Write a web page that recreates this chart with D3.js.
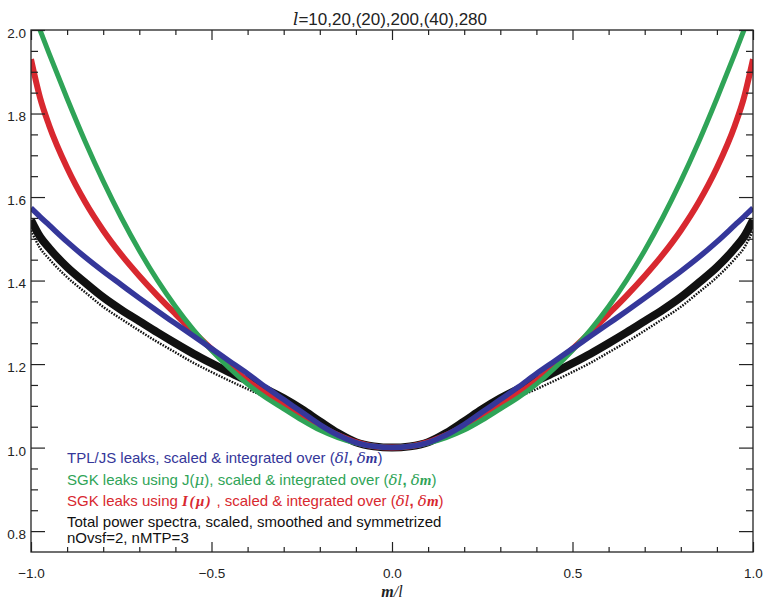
<!DOCTYPE html>
<html>
<head>
<meta charset="utf-8">
<script src="https://cdn.jsdelivr.net/npm/d3@7"></script>
<style>
  html, body { margin: 0; padding: 0; background: #fff; }
  svg { display: block; }
  text { font-family: "Liberation Sans", Arial, Helvetica, sans-serif; }
</style>
</head>
<body>
<svg id="chart" width="764" height="601"></svg>
<script>
// |m|/l sample positions (curves are symmetric in m/l)
const mPos = [0, 0.05, 0.1, 0.15, 0.2, 0.25, 0.3, 0.35, 0.4, 0.45, 0.5, 0.55, 0.6, 0.65, 0.7, 0.75, 0.8, 0.85, 0.9, 0.95, 0.975, 1.0];

// Total power spectra (scaled, smoothed, symmetrized): main band and lower track
const totalPower = [1.000, 1.003, 1.013, 1.035, 1.063, 1.092, 1.118, 1.140, 1.160, 1.180, 1.202, 1.225, 1.250, 1.276, 1.303, 1.330, 1.360, 1.395, 1.432, 1.478, 1.505, 1.545];
const totalPowerLow = [1.000, 1.002, 1.010, 1.027, 1.050, 1.077, 1.100, 1.121, 1.140, 1.160, 1.181, 1.203, 1.228, 1.253, 1.280, 1.308, 1.337, 1.372, 1.408, 1.452, 1.478, 1.520];

// TPL/JS leaks
const tplLeaks = [1.000, 1.003, 1.012, 1.030, 1.055, 1.085, 1.115, 1.145, 1.177, 1.207, 1.237, 1.267, 1.297, 1.327, 1.358, 1.390, 1.422, 1.456, 1.493, 1.533, 1.553, 1.574];

// SGK leaks using J(mu)
const sgkJ = [1.000, 1.003, 1.011, 1.024, 1.042, 1.066, 1.093, 1.120, 1.152, 1.190, 1.233, 1.282, 1.338, 1.401, 1.472, 1.551, 1.638, 1.733, 1.836, 1.944, 2.000, 2.056];

// SGK leaks using I(mu)
const sgkI = [1.000, 1.003, 1.013, 1.030, 1.052, 1.077, 1.103, 1.130, 1.160, 1.196, 1.236, 1.277, 1.320, 1.364, 1.411, 1.462, 1.520, 1.588, 1.670, 1.772, 1.838, 1.930];

// Axis ticks
const xMajor = [-1.0, -0.5, 0.0, 0.5, 1.0];
const xMinor = [-0.9, -0.8, -0.7, -0.6, -0.4, -0.3, -0.2, -0.1, 0.1, 0.2, 0.3, 0.4, 0.6, 0.7, 0.8, 0.9];
const yMajor = [0.8, 1.0, 1.2, 1.4, 1.6, 1.8, 2.0];
const yMinor = [0.85, 0.9, 0.95, 1.05, 1.1, 1.15, 1.25, 1.3, 1.35, 1.45, 1.5, 1.55, 1.65, 1.7, 1.75, 1.85, 1.9, 1.95];

const colors = { black: "#111111", blue: "#35379a", green: "#2fa457", red: "#d8282f" };

const svg = d3.select("#chart");
const plotL = 31, plotR = 753, plotT = 30, plotB = 552;

const x = d3.scaleLinear().domain([-1, 1]).range([plotL, plotR]);
const y = d3.scaleLinear().domain([0.75, 2.0]).range([plotB, plotT]);

// Mirror the half-curve onto negative m/l
function full(vals) {
  const pts = [];
  for (let i = mPos.length - 1; i > 0; i--) pts.push([-mPos[i], vals[i]]);
  for (let i = 0; i < mPos.length; i++) pts.push([mPos[i], vals[i]]);
  return pts;
}

svg.append("defs").append("clipPath").attr("id", "plotClip")
  .append("rect").attr("x", plotL).attr("y", plotT).attr("width", plotR - plotL).attr("height", plotB - plotT);

const path = d3.line().x(d => x(d[0])).y(d => y(d[1])).curve(d3.curveMonotoneX);

const plot = svg.append("g").attr("clip-path", "url(#plotClip)");

// Total power: lower dotted track, then main band
plot.append("path").attr("d", path(full(totalPowerLow)))
  .attr("fill", "none").attr("stroke", colors.black).attr("stroke-width", 2.4)
  .attr("stroke-dasharray", "1.6 1.3");
plot.append("path").attr("d", path(full(totalPower)))
  .attr("fill", "none").attr("stroke", colors.black).attr("stroke-width", 8);

plot.append("path").attr("d", path(full(sgkI)))
  .attr("fill", "none").attr("stroke", colors.red).attr("stroke-width", 6);
plot.append("path").attr("d", path(full(sgkJ)))
  .attr("fill", "none").attr("stroke", colors.green).attr("stroke-width", 5);
plot.append("path").attr("d", path(full(tplLeaks)))
  .attr("fill", "none").attr("stroke", colors.blue).attr("stroke-width", 5.5);

// Frame and ticks (all pointing inward, on four sides)
const axisColor = "#222";
function styleAxis(g) {
  g.select(".domain").remove();
  g.selectAll(".tick line").attr("stroke", axisColor).attr("stroke-width", 1.2);
  g.selectAll(".tick text").attr("fill", "#222").style("font-size", "13.5px")
    .style("font-family", '"Liberation Sans", Arial, sans-serif');
}
const fmt = d3.format(".1f");

svg.append("g").attr("transform", `translate(0,${plotB})`)
  .call(d3.axisBottom(x).tickValues(xMajor).tickSize(-10).tickPadding(16).tickFormat(fmt)).call(styleAxis);
svg.append("g").attr("transform", `translate(0,${plotB})`)
  .call(d3.axisBottom(x).tickValues(xMinor).tickSize(-5).tickFormat("")).call(styleAxis);
svg.append("g").attr("transform", `translate(0,${plotT})`)
  .call(d3.axisTop(x).tickValues(xMajor).tickSize(-10).tickFormat("")).call(styleAxis);
svg.append("g").attr("transform", `translate(0,${plotT})`)
  .call(d3.axisTop(x).tickValues(xMinor).tickSize(-5).tickFormat("")).call(styleAxis);

svg.append("g").attr("transform", `translate(${plotL},0)`)
  .call(d3.axisLeft(y).tickValues(yMajor).tickSize(-14).tickPadding(5).tickFormat(fmt)).call(styleAxis)
  .selectAll(".tick text").attr("dy", "0.55em");
svg.append("g").attr("transform", `translate(${plotL},0)`)
  .call(d3.axisLeft(y).tickValues(yMinor).tickSize(-7).tickFormat("")).call(styleAxis);
svg.append("g").attr("transform", `translate(${plotR},0)`)
  .call(d3.axisRight(y).tickValues(yMajor).tickSize(-14).tickFormat("")).call(styleAxis);
svg.append("g").attr("transform", `translate(${plotR},0)`)
  .call(d3.axisRight(y).tickValues(yMinor).tickSize(-7).tickFormat("")).call(styleAxis);

svg.append("rect").attr("x", plotL).attr("y", plotT).attr("width", plotR - plotL).attr("height", plotB - plotT)
  .attr("fill", "none").attr("stroke", axisColor).attr("stroke-width", 1.3);

// Title
const title = svg.append("text").attr("x", 390).attr("y", 25).attr("text-anchor", "middle")
  .style("font-size", "17px").attr("fill", "#222");
title.append("tspan").style("font-family", '"DejaVu Serif", serif').style("font-style", "italic").text("l");
title.append("tspan").text("=10,20,(20),200,(40),280");

// X-axis title
const xt = svg.append("text").attr("x", 392).attr("y", 597).attr("text-anchor", "middle")
  .style("font-family", '"Liberation Serif", "DejaVu Serif", serif').style("font-size", "16px")
  .style("font-style", "italic").attr("fill", "#222");
xt.append("tspan").style("font-weight", "bold").text("m");
xt.append("tspan").text("/l");

// Legend
const lx = 67;
function deltaPart(t) {
  t.append("tspan").text("(");
  t.append("tspan").style("font-family", '"DejaVu Serif", serif').style("font-style", "italic").text("δl");
  t.append("tspan").style("font-weight", "bold").text(", ");
  t.append("tspan").style("font-family", '"DejaVu Serif", serif').style("font-style", "italic").text("δ");
  t.append("tspan").style("font-family", '"Liberation Serif", serif').style("font-weight", "bold").style("font-style", "italic").text("m");
  t.append("tspan").text(")");
}
const legendFont = "15px";

const l1 = svg.append("text").attr("x", lx).attr("y", 463).style("font-size", legendFont).attr("fill", colors.blue);
l1.append("tspan").text("TPL/JS leaks, scaled & integrated over ");
deltaPart(l1);

const l2 = svg.append("text").attr("x", lx).attr("y", 485).style("font-size", legendFont).attr("fill", colors.green);
l2.append("tspan").text("SGK leaks using J(");
l2.append("tspan").style("font-family", '"DejaVu Serif", serif').style("font-style", "italic").text("μ");
l2.append("tspan").text("), scaled & integrated over ");
deltaPart(l2);

const l3 = svg.append("text").attr("x", lx).attr("y", 506).style("font-size", legendFont).attr("fill", colors.red);
l3.append("tspan").text("SGK leaks using ");
l3.append("tspan").style("font-family", '"Liberation Serif", serif').style("font-weight", "bold")
  .style("font-style", "italic").style("letter-spacing", "1.5px").text("I(μ)");
l3.append("tspan").text(" , scaled & integrated over ");
deltaPart(l3);

svg.append("text").attr("x", lx).attr("y", 527).style("font-size", legendFont).attr("fill", "#111")
  .text("Total power spectra, scaled, smoothed and symmetrized");
svg.append("text").attr("x", lx).attr("y", 543).style("font-size", legendFont).attr("fill", "#111")
  .text("nOvsf=2, nMTP=3");
</script>
</body>
</html>
